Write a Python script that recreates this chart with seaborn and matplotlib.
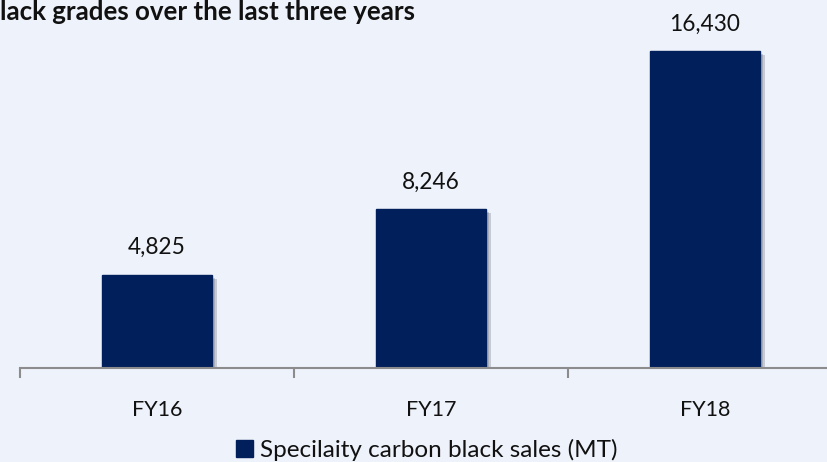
import matplotlib
matplotlib.use("Agg")
import matplotlib.pyplot as plt
import matplotlib.patheffects as pe
from matplotlib.patches import Patch
import seaborn as sns
import pandas as pd

categories = ["FY16", "FY17", "FY18"]
values = [4825, 8246, 16430]
series_name = "Specilaity carbon black sales (MT)"
title_text = "lack grades over the last three years"

BG = "#EEF2FA"
NAVY = "#001F5B"

sns.set_theme(style="white")
plt.rcParams["font.family"] = ["Lato", "DejaVu Sans"]

fig = plt.figure(figsize=(8.27, 4.62), dpi=100, facecolor=BG)
ax = fig.add_axes([20 / 827, 1 - 368 / 462, 822 / 827, 368 / 462])
ax.set_facecolor(BG)

df = pd.DataFrame({"cat": categories, "val": values})
sns.barplot(data=df, x="cat", y="val", color=NAVY, width=0.4, ax=ax,
            saturation=1, edgecolor=NAVY)
for p in ax.patches:
    p.set_path_effects([pe.SimplePatchShadow(offset=(4, -3), shadow_rgbFace="#6A6F80", alpha=0.3),
                        pe.SimplePatchShadow(offset=(2, -2), shadow_rgbFace="#6A6F80", alpha=0.3),
                        pe.Normal()])

ax.set_xlim(-0.5, 2.5)
ax.set_ylim(0, 19090)
for c in ax.containers:
    ax.bar_label(c, labels=[f"{v:,}" for v in values], padding=12,
                 fontsize=16.3, color="#111111")

for s in ["top", "right", "left"]:
    ax.spines[s].set_visible(False)
ax.spines["bottom"].set_color("#8C8C8C")
ax.spines["bottom"].set_linewidth(1.5)
ax.set_yticks([])
ax.set_xlabel("")
ax.set_ylabel("")
ax.set_xticks([0, 1, 2])
ax.set_xticklabels(categories, fontsize=15.5, color="#111111")
ax.tick_params(axis="x", which="major", length=0, pad=23)
ax.set_xticks([-0.5, 0.5, 1.5, 2.5], minor=True)
ax.tick_params(axis="x", which="minor", length=7, width=1.5, color="#8C8C8C", direction="out", bottom=True)

fig.text(0.0, 1 - 19.5 / 462, title_text, fontsize=18.6, fontweight="bold",
         color="#111111", ha="left", va="baseline")

fig.legend(handles=[Patch(facecolor=NAVY, edgecolor=NAVY)], labels=[series_name],
           loc="center", bbox_to_anchor=(427 / 827, 1 - 450 / 462), frameon=False,
           fontsize=17.5, handlelength=0.7, handleheight=0.7, handletextpad=0.3,
           labelcolor="#111111")

fig.savefig("out.png", dpi=100, facecolor=BG)
